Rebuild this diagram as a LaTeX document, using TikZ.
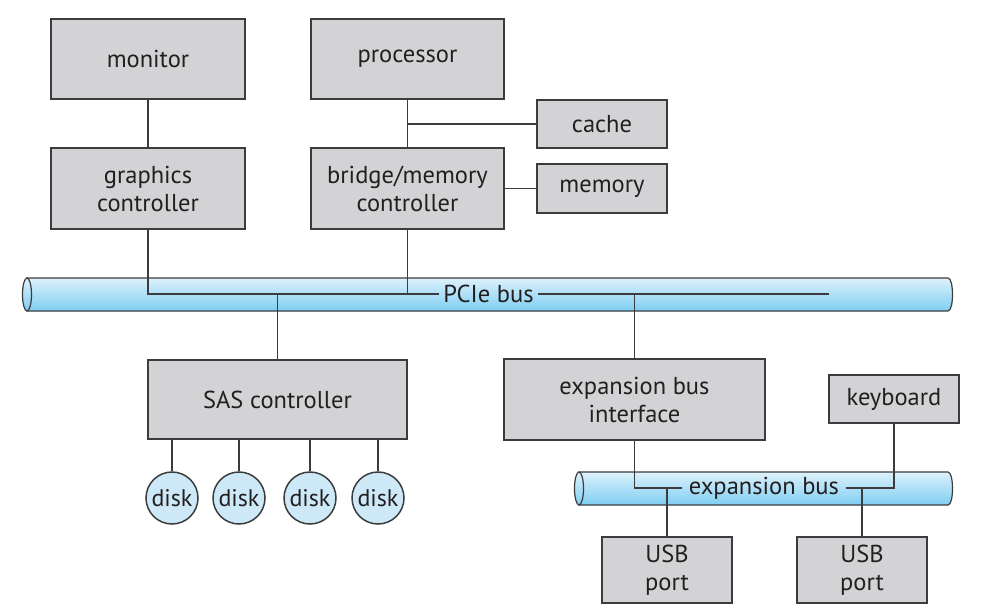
\documentclass[tikz,border=0pt]{standalone}
\usepackage{fontspec}
\setmainfont{PT Sans}
\definecolor{boxfill}{HTML}{D3D3D5}
\definecolor{boxdraw}{HTML}{3C3C3E}
\definecolor{bustop}{HTML}{DDF1FB}
\definecolor{busbot}{HTML}{7ECEF3}
\definecolor{diskfill}{HTML}{CDE9F8}
\definecolor{txt}{HTML}{231F20}
\tikzset{
  box/.style={draw=boxdraw, fill=boxfill, line width=1.5pt, inner sep=0pt, align=center,
    font=\fontsize{24.5}{28}\selectfont, text=txt},
  disk/.style={circle, draw=boxdraw, fill=diskfill, line width=1.5pt, inner sep=0pt,
    minimum size=52pt, font=\fontsize{24}{28}\selectfont, text=txt},
  buslabel/.style={inner sep=0pt, minimum width=0pt, font=\fontsize{24.5}{28}\selectfont, text=txt},
  wire/.style={draw=boxdraw, line width=1.5pt},
  busbody/.style={top color=bustop, bottom color=busbot, draw=boxdraw, line width=1.2pt}
}
\begin{document}
\begin{tikzpicture}[x=1pt,y=-1pt]
\useasboundingbox (0,0) rectangle (1005,607);
% PCIe bus cylinder
\shade[busbody] (27,278) -- (948,278) .. controls (954,278) and (954,311) .. (948,311) -- (27,311) -- cycle;
\shade[busbody] (27,294.5) ellipse [x radius=4.5, y radius=16.5];
% expansion bus cylinder
\shade[busbody] (579,472) -- (948,472) .. controls (954,472) and (954,505) .. (948,505) -- (579,505) -- cycle;
\shade[busbody] (579,488.5) ellipse [x radius=4.5, y radius=16.5];

% boxes
\node[box, minimum width=194pt, minimum height=80pt] (monitor) at (148,59) {monitor};
\node[box, minimum width=193pt, minimum height=80pt] (processor) at (407.5,59) {processor};
\node[box, minimum width=130pt, minimum height=48pt] (cache) at (602,124) {cache};
\node[box, minimum width=194pt, minimum height=81pt] (gfx) at (148,188.5) {graphics\\controller};
\node[box, minimum width=193pt, minimum height=81pt] (bridge) at (407.5,188.5) {bridge/memory\\controller};
\node[box, minimum width=130pt, minimum height=49pt] (memory) at (602,188.5) {memory};
\node[box, minimum width=259pt, minimum height=79pt] (sas) at (277.5,399.5) {SAS controller};
\node[box, minimum width=261pt, minimum height=81pt] (ebi) at (634.5,399.5) {expansion bus\\interface};
\node[box, minimum width=130pt, minimum height=48pt] (kbd) at (894,399) {keyboard};
\node[box, minimum width=130pt, minimum height=66pt] (usb1) at (667,570) {USB\\port};
\node[box, minimum width=130pt, minimum height=66pt] (usb2) at (862,570) {USB\\port};

% disks
\node[disk] (d1) at (172,498) {disk};
\node[disk] (d2) at (239,498) {disk};
\node[disk] (d3) at (310,498) {disk};
\node[disk] (d4) at (378,498) {disk};

% bus labels
\node[buslabel] (pcie) at (488.5,294) {PCIe bus};
\node[buslabel] (exp) at (764,488) {expansion bus};
\coordinate (pend) at (829,294);

% connectors
\draw[wire] (monitor) -- (gfx);
\draw[wire] (processor) -- (bridge);
\draw[wire] (cache.west) -- (processor.south |- cache.west);
\draw[wire] (memory.west) -- (bridge.east |- memory.west);
\draw[wire] (gfx.south) |- ([xshift=-4pt]pcie.west);
\draw[wire] ([xshift=4pt]pcie.east) -- (pend);
\draw[wire] (bridge.south) -- (bridge.south |- pend);
\draw[wire] (sas.north) -- (sas.north |- pend);
\draw[wire] (ebi.north) -- (ebi.north |- pend);
\foreach \d in {d1,d2,d3,d4} \draw[wire] (\d.north) -- (\d.north |- sas.south);
\draw[wire] (ebi.south) |- ([xshift=-7pt]exp.west);
\draw[wire] ([xshift=7pt]exp.east) -| (kbd.south);
\draw[wire] (usb1.north) -- (usb1.north |- exp.west);
\draw[wire] (usb2.north) -- (usb2.north |- exp.east);
\end{tikzpicture}
\end{document}
